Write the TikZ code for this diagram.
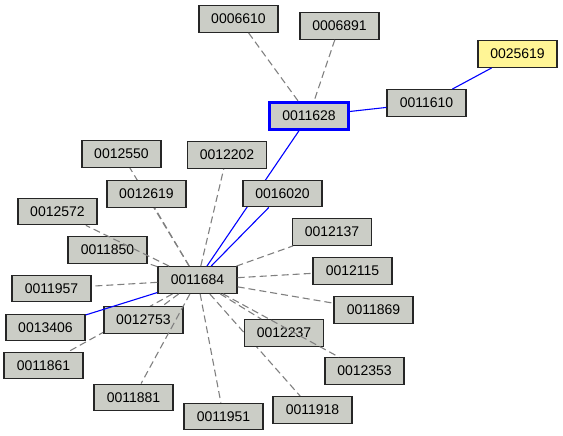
\documentclass[tikz,border=0pt]{standalone}
\usepackage{fontspec}
\setmainfont{Liberation Sans}
\usetikzlibrary{backgrounds}
\definecolor{boxgray}{RGB}{203,205,198}
\definecolor{boxyellow}{RGB}{255,245,150}

\begin{document}
\begin{tikzpicture}[x=1pt, y=-1pt,
    box/.style={draw=black!85, line width=1.3pt, fill=boxgray, minimum width=79pt,
                minimum height=26.5pt, inner sep=0pt,
                font=\fontsize{14}{16}\selectfont},
    link/.style={draw=gray, line width=1.1pt, dash pattern=on 7pt off 4pt},
    chain/.style={draw=blue, line width=1.1pt},
  ]
    \useasboundingbox (0,0) rectangle (563,436);

    % upper group
    \node[box] (n6610)  at (238.5,19)  {0006610};
    \node[box] (n6891)  at (339.5,26)  {0006891};
    \node[box, draw=blue, line width=2.6pt] (n11628) at (309,116) {0011628};
    \node[box] (n11610) at (426.5,103) {0011610};
    \node[box, fill=boxyellow] (n25619) at (517.5,54) {0025619};

    % hub and its neighbours
    \node[box] (hub)    at (197.5,280) {0011684};
    \node[box] (n12550) at (121.5,154) {0012550};
    \node[box] (n12202) at (227,155)   {0012202};
    \node[box] (n12619) at (146.5,194) {0012619};
    \node[box] (n16020) at (282.5,193.5) {0016020};
    \node[box] (n12572) at (57.5,211.5) {0012572};
    \node[box] (n12137) at (332,232)   {0012137};
    \node[box] (n11850) at (107.5,250) {0011850};
    \node[box] (n12115) at (352.5,271) {0012115};
    \node[box] (n11957) at (51.5,288.5) {0011957};
    \node[box] (n11869) at (373.5,310) {0011869};
    \node[box] (n13406) at (45.5,327.5) {0013406};
    \node[box] (n12753) at (143.5,320) {0012753};
    \node[box] (n12237) at (284,333)   {0012237};
    \node[box] (n11861) at (43.5,365.5) {0011861};
    \node[box] (n12353) at (364.5,371) {0012353};
    \node[box] (n11881) at (133.5,397.5) {0011881};
    \node[box] (n11951) at (223.5,416.5) {0011951};
    \node[box] (n11918) at (312.5,410) {0011918};

    % links hidden behind other boxes
    \begin{scope}[on background layer]
      \draw[chain] (n11628) -- (hub);
      \foreach \n in {12550,11861,11918}
        \draw[link] (hub) -- (n\n);
    \end{scope}

    \draw[link] (n6610) -- (n11628);
    \draw[link] (n6891) -- (n11628);
    \draw[chain] (n11628) -- (n11610);
    \draw[chain] (n11610) -- (n25619);
    \draw[chain] (n16020) -- (hub);
    \draw[chain] (n13406) -- (hub);
    \foreach \n in {12202,12619,12572,11850,12137,12115,11957,11869,
                    12753,12237,12353,11881,11951}
      \draw[link] (hub) -- (n\n);
  \end{tikzpicture}
\end{document}
